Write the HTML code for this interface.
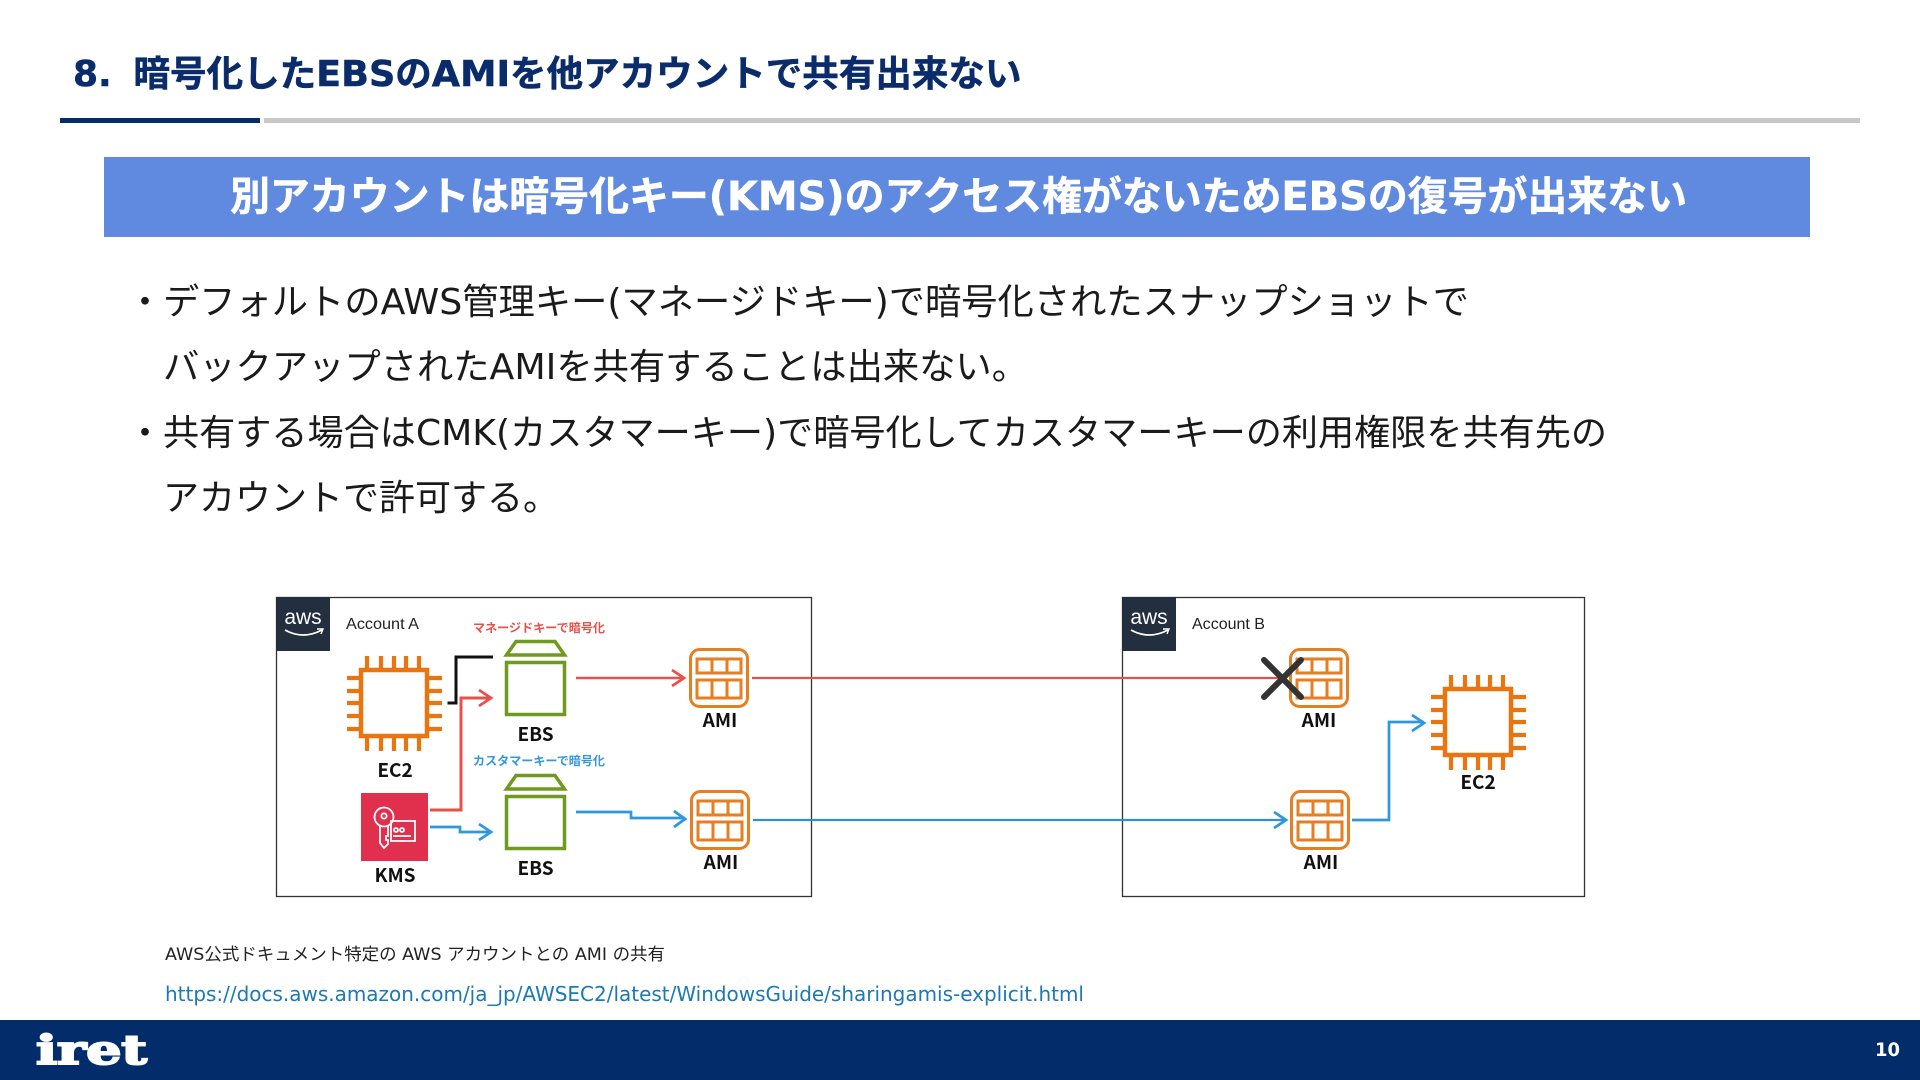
<!DOCTYPE html>
<html lang="ja"><head><meta charset="utf-8"><title>8. 暗号化したEBSのAMIを他アカウントで共有出来ない</title>
<style>
html,body{margin:0;padding:0;background:#fff;width:1920px;height:1080px;overflow:hidden}
svg{display:block}
text{font-family:"DejaVu Sans","Noto Sans CJK JP",sans-serif}
.t{font-family:"Noto Sans CJK JP",sans-serif}
.lbl{font-family:"Noto Sans CJK JP",sans-serif;font-weight:700;font-size:19px;text-anchor:middle;fill:#111}
.acc{font-family:"Liberation Sans",sans-serif;font-size:16px;fill:#222}
</style></head><body>
<svg width="1920" height="1080" viewBox="0 0 1920 1080" xmlns="http://www.w3.org/2000/svg">
<defs>
<g id="chip" fill="none" stroke="#e8750f">
<rect x="2" y="2" width="66" height="66" stroke-width="4.5" fill="#fff"/>
<path stroke-width="4.2" d="M8 0V-12M22 0V-12M35 0V-12M47 0V-12M60 0V-12M8 70V83M22 70V83M35 70V83M47 70V83M60 70V83M0 10H-12M0 23H-12M0 35H-12M0 48H-12M0 61H-12M70 10H83M70 23H83M70 35H83M70 48H83M70 61H83"/>
</g>
<g id="ami" fill="none" stroke="#e67e22" stroke-width="3">
<rect x="0.5" y="0.5" width="57" height="57" rx="9" fill="#fff"/>
<rect x="7" y="10" width="44" height="14"/>
<rect x="7" y="31" width="44" height="18"/>
<path d="M22 10V24M37 10V24M22 31V49M37 31V49"/>
</g>
<g id="ebs" fill="none" stroke="#6f9a1f" stroke-width="3.5">
<rect x="1.5" y="22.5" width="58" height="52"/>
<path d="M1.5 15 L11 1.5 H50 L59.5 15 Z"/>
</g>
<g id="tile">
<rect width="54" height="54" fill="#232f3e"/>
<text x="27" y="27" text-anchor="middle" fill="#fff" style="font-family:'Liberation Sans',sans-serif;font-size:21px">aws</text>
<path d="M9 33 Q27 43 46 33" fill="none" stroke="#fff" stroke-width="1.8"/>
<path d="M41 32 L47 32 L45 37" fill="none" stroke="#fff" stroke-width="1.4"/>
</g>
</defs>

<rect width="1920" height="1080" fill="#fff"/>

<g font-weight="700" font-size="36" fill="#0a2c6b" stroke="#0a2c6b" stroke-width="0.5">
<text x="73" y="86">8.</text>
<text x="133.5" y="86" textLength="888" lengthAdjust="spacingAndGlyphs">暗号化したEBSのAMIを他アカウントで共有出来ない</text>
</g>
<rect x="60" y="118" width="200" height="5" fill="#052c69"/>
<rect x="264" y="118" width="1596" height="5" fill="#c8c8c8"/>

<rect x="104" y="157" width="1706" height="80" fill="#5f8adf"/>
<text x="230" y="210" textLength="1457" lengthAdjust="spacingAndGlyphs" font-weight="700" font-size="40" fill="#fff" stroke="#fff" stroke-width="0.5">別アカウントは暗号化キー(KMS)のアクセス権がないためEBSの復号が出来ない</text>

<g font-size="36" fill="#1a1a1a">
<text x="127" y="314">・</text>
<text x="163" y="314" textLength="1306" lengthAdjust="spacingAndGlyphs">デフォルトのAWS管理キー(マネージドキー)で暗号化されたスナップショットで</text>
<text x="163" y="379" textLength="865" lengthAdjust="spacingAndGlyphs">バックアップされたAMIを共有することは出来ない。</text>
<text x="127" y="445">・</text>
<text x="163" y="445" textLength="1444" lengthAdjust="spacingAndGlyphs">共有する場合はCMK(カスタマーキー)で暗号化してカスタマーキーの利用権限を共有先の</text>
<text x="163" y="510" textLength="396" lengthAdjust="spacingAndGlyphs">アカウントで許可する。</text>
</g>

<!-- diagram -->
<rect x="276.5" y="597.5" width="535" height="299" fill="#fff" stroke="#333" stroke-width="1.3"/>
<rect x="1122.5" y="597.5" width="462" height="299" fill="#fff" stroke="#333" stroke-width="1.3"/>
<use href="#tile" x="276" y="597"/>
<use href="#tile" x="1122" y="597"/>
<text class="acc" x="346" y="629" textLength="73" lengthAdjust="spacingAndGlyphs">Account A</text>
<text class="acc" x="1192" y="629" textLength="73" lengthAdjust="spacingAndGlyphs">Account B</text>

<use href="#chip" x="359" y="668"/>
<use href="#chip" x="1443" y="687"/>
<use href="#ebs" x="505" y="640"/>
<use href="#ebs" x="505" y="774"/>
<use href="#ami" x="690" y="649"/>
<use href="#ami" x="691" y="791"/>
<use href="#ami" x="1290" y="649"/>
<use href="#ami" x="1291" y="791"/>

<rect x="361" y="793" width="67" height="68" fill="#e0304e"/>
<g fill="none" stroke="#fff" stroke-width="1.8">
<circle cx="384" cy="817" r="9.5"/><circle cx="384" cy="816" r="2.6"/>
<path d="M380 826V843L384 848L388 844V840H386V836H388V826"/>
<rect x="391" y="821" width="24" height="20"/>
<circle cx="396" cy="830" r="2"/><circle cx="402" cy="830" r="2"/>
<path d="M393 836H411"/>
</g>

<!-- connectors -->
<path d="M447.5 703 H456 V657 H493" fill="none" stroke="#111" stroke-width="3"/>
<g fill="none" stroke="#e8504a" stroke-width="2.6">
<path d="M430 810 H461 V698 H491" stroke-width="3"/>
<path d="M479 690 L491 698 L479 706" stroke-width="2.8"/>
<path d="M576 678 H684"/>
<path d="M672 670 L684 678 L672 686" stroke-width="2.8"/>
</g>
<path d="M752 678 H1280" fill="none" stroke="#d9534f" stroke-width="2.2"/>
<g fill="none" stroke="#2f97e0" stroke-width="2.7">
<path d="M430 827 H460 V832 H491"/>
<path d="M479 824 L491 832 L479 840" stroke-width="2.8"/>
<path d="M576 812 H631 V818 H685"/>
<path d="M674 811 L685 819 L674 827" stroke-width="2.8"/>
</g>
<path d="M753 820 H1285" fill="none" stroke="#2f8fd0" stroke-width="2.2"/>
<path d="M1274 812 L1286 820 L1274 828" fill="none" stroke="#2f97e0" stroke-width="2.8"/>
<path d="M1352 820 H1389 V722 H1424" fill="none" stroke="#2f97e0" stroke-width="2.7"/>
<path d="M1412 715 L1424 723 L1412 731" fill="none" stroke="#2f97e0" stroke-width="2.8"/>

<path d="M1264 660 L1301 697 M1301 660 L1264 697" stroke="#333" stroke-width="6" stroke-linecap="round"/>

<text class="t" x="473" y="632" textLength="132" lengthAdjust="spacingAndGlyphs" font-size="12" font-weight="700" fill="#e8504a">マネージドキーで暗号化</text>
<text class="t" x="473" y="765" textLength="132" lengthAdjust="spacingAndGlyphs" font-size="12" font-weight="700" fill="#3498db">カスタマーキーで暗号化</text>

<text class="lbl" x="395" y="777">EC2</text>
<text class="lbl" x="395" y="882">KMS</text>
<text class="lbl" x="535.5" y="741">EBS</text>
<text class="lbl" x="535.5" y="875">EBS</text>
<text class="lbl" x="720" y="727">AMI</text>
<text class="lbl" x="721" y="869">AMI</text>
<text class="lbl" x="1319" y="727">AMI</text>
<text class="lbl" x="1321" y="869">AMI</text>
<text class="lbl" x="1478" y="789">EC2</text>

<text x="165" y="960" textLength="500" lengthAdjust="spacingAndGlyphs" font-size="17" fill="#222">AWS公式ドキュメント特定の AWS アカウントとの AMI の共有</text>
<text x="165" y="1001" textLength="919" lengthAdjust="spacingAndGlyphs" font-size="20" fill="#1b79b4">https://docs.aws.amazon.com/ja_jp/AWSEC2/latest/WindowsGuide/sharingamis-explicit.html</text>

<rect x="0" y="1020" width="1920" height="60" fill="#032c6b"/>
<text x="36" y="1064" textLength="111" lengthAdjust="spacingAndGlyphs" font-size="40" font-weight="700" fill="#fff" stroke="#fff" stroke-width="2" style="font-family:'DejaVu Serif',serif">iret</text>
<text x="1875" y="1056" textLength="25" lengthAdjust="spacingAndGlyphs" font-size="19" font-weight="700" fill="#fff">10</text>
</svg>
</body></html>
